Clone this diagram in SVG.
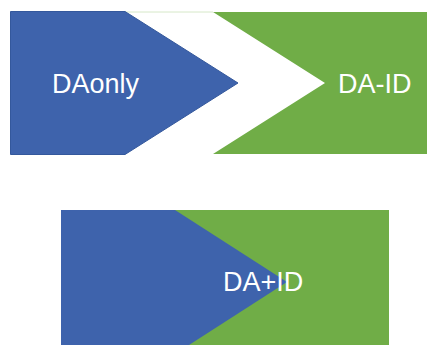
<svg xmlns="http://www.w3.org/2000/svg" width="427" height="345" viewBox="0 0 427 345">
<style>
.blue{fill:#3E63AC;stroke:#34589C;stroke-width:1}
.green{fill:#70AD47}
.lbl{font-family:"Liberation Sans",Arial,sans-serif;font-size:27px;fill:#FFFFFF}
</style>
<rect width="427" height="345" fill="#FFFFFF"/>
<g id="da-id">
<polygon class="green" points="213,12 428,12 428,154 213,154 325,83"/>
<line x1="125" y1="12" x2="213" y2="12" stroke="#D6E8C8" stroke-width="1"/>
<text class="lbl" x="338" y="93">DA-ID</text>
</g>
<g id="daonly">
<polygon class="blue" points="10.5,11.5 125,11.5 238,83 125,154.5 10.5,154.5"/>
<text class="lbl" x="52" y="93">DAonly</text>
</g>
<g id="da-plus-id">
<rect class="green" x="61" y="210" width="328" height="140"/>
<polygon fill="#3E63AC" points="61,210 175,210 287,282 175,354 61,354"/>
<text class="lbl" x="223" y="291">DA+ID</text>
</g>
<g id="connectors"/>
</svg>
